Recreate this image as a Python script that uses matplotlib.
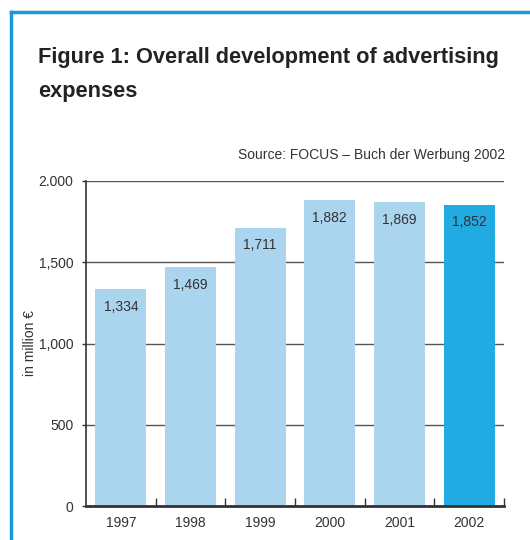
import matplotlib.pyplot as plt
from matplotlib.lines import Line2D

years = ["1997", "1998", "1999", "2000", "2001", "2002"]
expenses = [1334, 1469, 1711, 1882, 1869, 1852]
value_labels = ["1,334", "1,469", "1,711", "1,882", "1,869", "1,852"]
ytick_values = [0, 500, 1000, 1500, 2000]
ytick_labels = ["0", "500", "1,000", "1,500", "2.000"]

LIGHT = "#abd5ef"
STRONG = "#22abe2"
FRAME = "#1a98d8"
DARK = "#333333"
FONT = ["Liberation Sans", "DejaVu Sans"]
FS = 10

fig = plt.figure(figsize=(5.3, 5.4), dpi=100)

# blue frame on left and top
fig.add_artist(Line2D([11 / 530, 11 / 530], [0, 1 - 12 / 540], transform=fig.transFigure,
                      color=FRAME, lw=2.5))
fig.add_artist(Line2D([11 / 530, 1], [1 - 12 / 540, 1 - 12 / 540], transform=fig.transFigure,
                      color=FRAME, lw=2.5))

# title
fig.text(38 / 530, 1 - 58 / 540, "Figure 1: Overall development of advertising",
         fontsize=15.7, fontweight="bold", color="#222222", family=FONT,
         va="center", ha="left")
fig.text(38 / 530, 1 - 92 / 540, "expenses",
         fontsize=15.7, fontweight="bold", color="#222222", family=FONT,
         va="center", ha="left")

fig.text(505 / 530, 1 - 155 / 540, "Source: FOCUS \u2013 Buch der Werbung 2002",
         fontsize=FS, color=DARK, family=FONT, ha="right", va="center")

ax = fig.add_axes([86 / 530, 34 / 540, 418 / 530, 325 / 540])

x = range(len(years))
colors = [LIGHT] * (len(years) - 1) + [STRONG]
ax.bar(x, expenses, width=0.73, color=colors, zorder=2)

for xi, v, lab in zip(x, expenses, value_labels):
    ax.annotate(lab, (xi, v), xytext=(0, -12.5), textcoords="offset points",
                ha="center", va="center", fontsize=FS, color=DARK, family=FONT)

ax.set_xlim(-0.5, len(years) - 0.5)
ax.set_ylim(0, 2000)

ax.set_yticks(ytick_values)
ax.set_yticklabels(ytick_labels, family=FONT, fontsize=FS, color=DARK)
ax.set_xticks(list(x))
ax.set_xticklabels(years, family=FONT, fontsize=FS, color=DARK)
ax.set_xticks([i + 0.5 for i in range(len(years))], minor=True)

ax.tick_params(axis="x", which="major", length=0, pad=7)
ax.tick_params(axis="x", which="minor", direction="in", length=6, width=1, color=DARK)
ax.tick_params(axis="y", length=3, width=1, color=DARK, pad=6)

ax.yaxis.grid(True, color="#555555", lw=1)
ax.set_axisbelow(True)

for side in ["top", "right"]:
    ax.spines[side].set_visible(False)
ax.spines["left"].set_color(DARK)
ax.spines["left"].set_linewidth(1.2)
ax.spines["bottom"].set_color(DARK)
ax.spines["bottom"].set_linewidth(2)
ax.spines["bottom"].set_zorder(3)

ax.set_ylabel("in million \u20ac", family=FONT, fontsize=FS, color=DARK)
ax.yaxis.set_label_coords(-0.117, 0.5)

fig.savefig("out.png", dpi=100)
